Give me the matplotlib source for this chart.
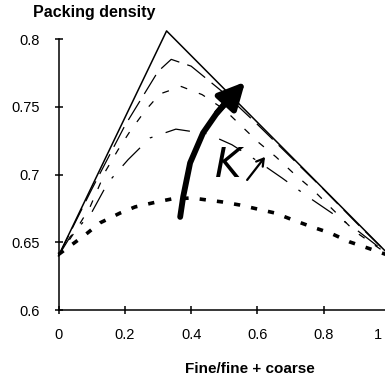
import matplotlib
matplotlib.use("Agg")
import matplotlib.pyplot as plt
from matplotlib.transforms import ScaledTranslation

plt.rcParams['font.family'] = ['Liberation Sans', 'DejaVu Sans']
plt.rcParams['lines.scale_dashes'] = False

# --- packing density curves
x_solid = [0, 0.326, 1.0]
y_solid = [0.640, 0.806, 0.640]

x_long = [0, 0.1, 0.2, 0.25, 0.3, 0.34, 0.4, 0.45, 0.5, 0.6, 0.7, 0.8, 0.9, 1.0]
y_long = [0.640, 0.689, 0.736, 0.756, 0.776, 0.785, 0.780, 0.770, 0.760, 0.737, 0.713, 0.689, 0.664, 0.640]

x_med = [0, 0.05, 0.095, 0.143, 0.179, 0.216, 0.261, 0.306, 0.37, 0.433, 0.5, 0.602, 0.656, 0.713, 0.768, 0.894, 1.0]
y_med = [0.640, 0.658, 0.676, 0.703, 0.718, 0.732, 0.747, 0.7595, 0.765, 0.759, 0.748, 0.724, 0.713, 0.700, 0.6886, 0.658, 0.640]

x_dd = [0, 0.035, 0.1, 0.149, 0.21, 0.276, 0.354, 0.45, 0.523, 0.6, 0.674, 0.75, 0.822, 0.9, 1.0]
y_dd = [0.640, 0.654, 0.672, 0.694, 0.711, 0.727, 0.7335, 0.730, 0.722, 0.710, 0.6975, 0.684, 0.672, 0.659, 0.640]

x_dot = [0, 0.08, 0.125, 0.186, 0.231, 0.297, 0.342, 0.403, 0.448, 0.493, 0.547, 0.599,
         0.653, 0.707, 0.765, 0.819, 0.879, 0.932, 1.0]
y_dot = [0.641, 0.6554, 0.6643, 0.6716, 0.6761, 0.6798, 0.682, 0.6827, 0.6812, 0.6798, 0.6775, 0.6746,
         0.6716, 0.6665, 0.6613, 0.6569, 0.6502, 0.6458, 0.640]

# big "K increases" arrow
x_arrow = [0.367, 0.376, 0.397, 0.436, 0.478, 0.518, 0.563]
y_arrow = [0.6687, 0.6835, 0.7086, 0.7307, 0.7455, 0.7573, 0.7684]

xticks = [0, 0.2, 0.4, 0.6, 0.8, 1]
xlabels = ['0', '0.2', '0.4', '0.6', '0.8', '1']
yticks = [0.6, 0.65, 0.7, 0.75, 0.8]
ylabels = ['0.6', '0.65', '0.7', '0.75', '0.8']

fig = plt.figure(figsize=(3.85, 3.79), dpi=100)
ax = fig.add_axes([0.152, 0.182, 0.861, 0.715])

ax.plot(x_solid, y_solid, color='black', lw=1.1, clip_on=False)
ax.plot(x_long, y_long, color='black', lw=0.9, dashes=(16, 6), clip_on=False)
ax.plot(x_med, y_med, color='black', lw=0.9, dashes=(5, 9), clip_on=False)
ax.plot(x_dd, y_dd, color='black', lw=0.9, dashes=(18, 10, 2, 10), clip_on=False)
ax.plot(x_dot, y_dot, color='black', lw=2.6, dashes=(4.5, 8), clip_on=False)

ax.plot(x_arrow[:-1], y_arrow[:-1], color='black', lw=4.2, solid_capstyle='round',
        solid_joinstyle='round')
ax.annotate('', xy=(x_arrow[-1], y_arrow[-1]), xytext=(x_arrow[-3], y_arrow[-3]),
            arrowprops=dict(arrowstyle='-|>,head_length=1.6,head_width=0.8',
                            lw=4.2, color='black', shrinkA=0, shrinkB=0))

ax.text(0.511, 0.707, 'K', fontsize=29, style='italic', ha='center', va='center',
        family=['DejaVu Sans'])
ax.annotate('', xy=(0.623, 0.713), xytext=(0.569, 0.696),
            arrowprops=dict(arrowstyle='->,head_length=0.5,head_width=0.3',
                            lw=1.6, color='black', shrinkA=0, shrinkB=0))

ax.set_xlim(0, 1)
ax.set_ylim(0.6, 0.8)
ax.set_xticks(xticks)
ax.set_xticklabels(xlabels)
ax.set_yticks(yticks)
ax.set_yticklabels(ylabels)
ax.tick_params(direction='inout', length=6, width=1.1, labelsize=10.5)
ax.tick_params(axis='x', pad=10)
ax.tick_params(axis='y', pad=10.5)
for s in ['top', 'right']:
    ax.spines[s].set_visible(False)
for s in ['left', 'bottom']:
    ax.spines[s].set_linewidth(1.1)

# the last x label sits pulled inside the frame, as in the source chart
last = ax.get_xticklabels()[-1]
last.set_transform(last.get_transform() + ScaledTranslation(-0.12, 0, fig.dpi_scale_trans))

fig.text(94 / 385, 1 - 13 / 379, 'Packing density', fontsize=11.5, fontweight='bold',
         ha='center', va='center')
fig.text(250 / 385, 1 - 369 / 379, 'Fine/fine + coarse', fontsize=11, fontweight='bold',
         ha='center', va='center')

fig.savefig('out.png', dpi=100)
